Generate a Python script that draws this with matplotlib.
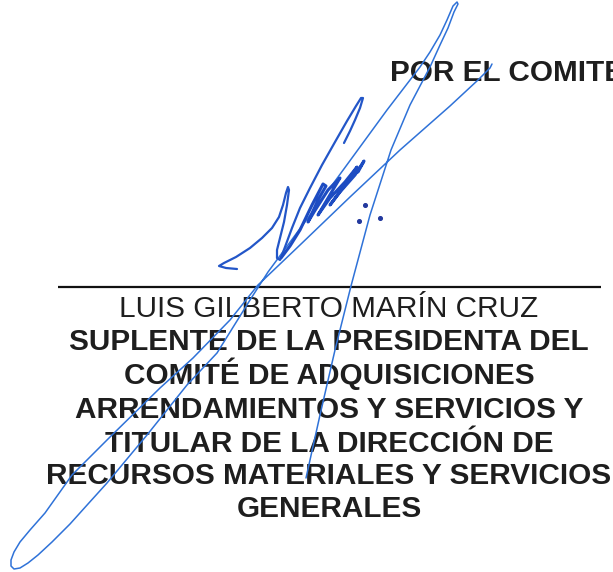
import matplotlib
matplotlib.use("Agg")
import matplotlib.pyplot as plt

# ---- text content ----
header_text = "POR EL COMITE"
name_text = "LUIS GILBERTO MARÍN CRUZ"
title_lines = [
    "SUPLENTE DE LA PRESIDENTA DEL",
    "COMITÉ DE ADQUISICIONES",
    "ARRENDAMIENTOS Y SERVICIOS Y",
    "TITULAR DE LA DIRECCIÓN DE",
    "RECURSOS MATERIALES Y SERVICIOS",
    "GENERALES",
]
title_baselines = [350, 384, 418, 452, 484, 517]

# ---- signature strokes (pixel coords) ----
loop_x = [306, 320, 335, 351, 370, 391, 410, 430, 440, 448, 454, 458, 457,
          453, 447, 440, 430, 420, 387, 330, 268, 250, 217, 187, 147, 107,
          88, 70, 52, 38, 28, 20, 14, 11, 11, 14, 20, 30, 45, 72, 110, 160,
          193, 230, 258, 300, 350, 400, 450, 478, 490, 492]
loop_y = [478, 415, 350, 286, 215, 150, 105, 67, 45, 28, 12, 4, 2,
          6, 20, 35, 52, 67, 110, 188, 272, 300, 353, 385, 435, 483,
          504, 524, 542, 555, 563, 568, 569, 566, 560, 552, 542, 530, 513, 475,
          437, 388, 358, 320, 285, 245, 197, 150, 106, 80, 68, 64]

tail_x = [237, 226, 219, 224, 236, 250, 262, 272, 279, 283, 286, 288, 289,
          287, 284, 280, 277, 277, 280, 285, 292, 300, 310, 322, 335, 347,
          356, 361, 363, 360, 355, 350, 344]
tail_y = [269, 268, 266, 263, 257, 248, 238, 228, 217, 205, 193, 187, 190,
          205, 222, 238, 250, 258, 260, 247, 228, 208, 188, 165, 142, 121,
          106, 98, 98, 108, 120, 131, 143]

zig_x = [281, 290, 300, 312, 323, 326, 318, 308, 314, 328, 340, 334, 318,
         330, 345, 357, 350, 330, 340, 355, 364, 358]
zig_y = [258, 246, 230, 205, 184, 186, 200, 222, 212, 190, 178, 188, 215,
         198, 182, 167, 178, 205, 192, 175, 161, 172]

dot_x = [365, 359, 380]
dot_y = [205, 221, 218]

rule_x = [58, 601]
rule_y = [287, 287]

text_color = "#1e1e1e"
font = ["Liberation Sans", "DejaVu Sans"]
fsize = 21.4

fig = plt.figure(figsize=(6.13, 5.72), dpi=100)
ax = fig.add_axes([0, 0, 1, 1])
ax.set_xlim(0, 613)
ax.set_ylim(572, 0)
ax.axis("off")

# signature line
ax.plot(rule_x, rule_y, color="#111111", lw=1.6, solid_capstyle="butt", zorder=1)

# header runs off the right edge, as on the scanned page
ax.text(390, 81, header_text, ha="left", va="baseline", fontsize=fsize,
        fontweight="bold", color=text_color, family=font, zorder=2)
ax.text(329, 317, name_text, ha="center", va="baseline", fontsize=fsize,
        color=text_color, family=font, zorder=2)
for line, yb in zip(title_lines, title_baselines):
    ax.text(329, yb, line, ha="center", va="baseline", fontsize=fsize,
            fontweight="bold", color=text_color, family=font, zorder=2)

# signature
ax.plot(loop_x, loop_y, color="#2f72d8", lw=1.1, solid_joinstyle="round",
        solid_capstyle="round", zorder=3)
ax.plot(tail_x, tail_y, color="#2356c8", lw=1.6, solid_joinstyle="round",
        solid_capstyle="round", zorder=3)
ax.plot(zig_x, zig_y, color="#1d4cc2", lw=2.2, solid_joinstyle="round",
        solid_capstyle="round", zorder=3)
ax.scatter(dot_x, dot_y, s=7, color="#23399e", zorder=3)

fig.savefig("out.png", dpi=100)
